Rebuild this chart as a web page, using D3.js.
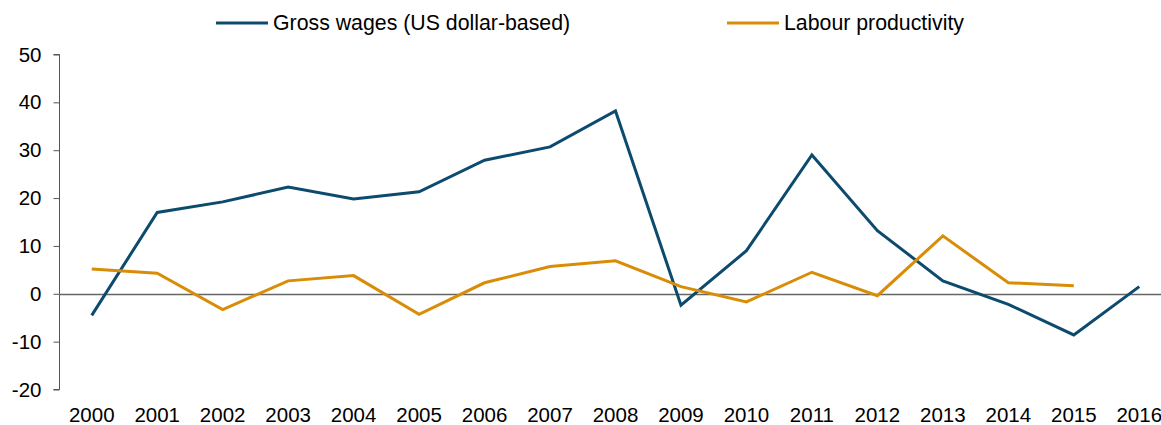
<!DOCTYPE html>
<html>
<head>
<meta charset="utf-8">
<script src="https://cdn.jsdelivr.net/npm/d3@7"></script>
<style>
  body { margin: 0; background: #fff; }
  svg { display: block; }
  text { font-family: "Liberation Sans", Arial, sans-serif; fill: #000; }
</style>
</head>
<body>
<svg id="chart" width="1161" height="425"></svg>
<script>
var years = ["2000","2001","2002","2003","2004","2005","2006","2007","2008",
             "2009","2010","2011","2012","2013","2014","2015","2016"];
var grossWages = [-4.5, 17.0, 19.2, 22.3, 19.8, 21.3, 27.9, 30.7, 38.2,
                  -2.4, 9.0, 29.0, 13.2, 2.7, -2.2, -8.6, 1.5];
var labourProd = [5.2, 4.3, -3.3, 2.7, 3.8, -4.3, 2.3, 5.7, 6.9,
                  1.5, -1.7, 4.5, -0.4, 12.1, 2.3, 1.7, null];
var yTicks = [-20, -10, 0, 10, 20, 30, 40, 50];
var seriesNames = ["Gross wages (US dollar-based)", "Labour productivity"];
var seriesColors = ["#0c4a6e", "#d98c06"];

var svg = d3.select("#chart");
var fontSize = 20.5;

var x = d3.scaleBand().domain(years).range([59, 1172]);
var y = d3.scaleLinear().domain([-20, 50]).range([389.5, 54.5]);

// y axis
var yAxis = svg.append("g").attr("transform", "translate(59.5,0)")
    .call(d3.axisLeft(y).tickValues(yTicks).tickSize(6).tickPadding(12)
        .tickFormat(function(d) { return String(d); }));
yAxis.select(".domain").attr("stroke", "#555").attr("d", "M-6," + y(-20) + "H0V" + y(50) + "H-6");
yAxis.selectAll(".tick line").attr("stroke", "#555");
yAxis.selectAll(".tick text").style("font-size", fontSize + "px").attr("fill", "#000")
    .style("font-family", "Liberation Sans, Arial, sans-serif");

// zero line
svg.append("line")
    .attr("x1", 59).attr("x2", 1172)
    .attr("y1", Math.round(y(0)) + 0.5).attr("y2", Math.round(y(0)) + 0.5)
    .attr("stroke", "#666").attr("stroke-width", 1.3);

// x labels
svg.append("g").selectAll("text").data(years).enter().append("text")
    .attr("x", function(d) { return x(d) + x.bandwidth() / 2; })
    .attr("y", 422)
    .attr("text-anchor", "middle")
    .style("font-size", fontSize + "px")
    .text(function(d) { return d; });

var line = d3.line()
    .defined(function(d) { return d != null; })
    .x(function(d, i) { return x(years[i]) + x.bandwidth() / 2; })
    .y(function(d) { return y(d); });

[grossWages, labourProd].forEach(function(s, i) {
    svg.append("path").datum(s)
        .attr("fill", "none")
        .attr("stroke", seriesColors[i])
        .attr("stroke-width", 3)
        .attr("stroke-linejoin", "miter")
        .attr("d", line);
});

// legend
var legendX = [216, 727];
seriesNames.forEach(function(n, i) {
    var g = svg.append("g").attr("transform", "translate(" + legendX[i] + ",23)");
    g.append("line").attr("x1", 0).attr("x2", 52).attr("y1", 0).attr("y2", 0)
        .attr("stroke", seriesColors[i]).attr("stroke-width", 3);
    g.append("text").attr("x", 57).attr("y", 7).style("font-size", "21.3px").text(n);
});
</script>
</body>
</html>
